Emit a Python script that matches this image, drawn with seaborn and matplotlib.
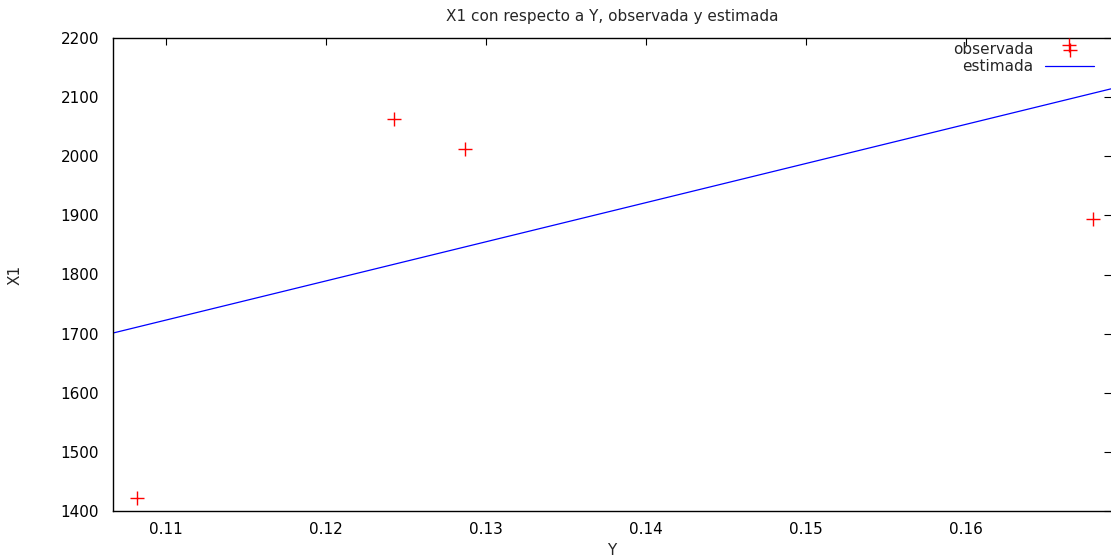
import matplotlib
matplotlib.use("Agg")
import matplotlib.pyplot as plt
import seaborn as sns
import pandas as pd

# Observed pairs (Y, X1)
obs_y = [0.10819, 0.12425, 0.12869, 0.16644, 0.16794]
obs_x1 = [1422, 2063, 2012, 2188, 1894]

# Fitted line, evaluated at the ends of the x range
est_y = [0.10669, 0.16906]
est_x1 = [1701, 2114]

x_ticks = [0.11, 0.12, 0.13, 0.14, 0.15, 0.16]
y_ticks = [1400, 1500, 1600, 1700, 1800, 1900, 2000, 2100, 2200]

sns.set_style("white")
plt.rcParams["font.family"] = ["DejaVu Sans"]
FS = 11

fig = plt.figure(figsize=(11.11, 5.57), dpi=100)
ax = fig.add_axes([113 / 1111, 46 / 557, 998 / 1111, 473 / 557])

obs = pd.DataFrame({"Y": obs_y, "X1": obs_x1})
est = pd.DataFrame({"Y": est_y, "X1": est_x1})

sns.lineplot(data=est, x="Y", y="X1", ax=ax, color="#0000ff", linewidth=0.9,
             label="estimada", zorder=2)
sns.scatterplot(data=obs, x="Y", y="X1", ax=ax, marker="+", color="#ff0000",
                s=95, linewidth=1.0, label="observada", zorder=3)

ax.set_xlim(est_y[0], est_y[1])
ax.set_ylim(1400, 2200)
ax.set_xticks(x_ticks)
ax.set_xticklabels([f"{v:.2f}" for v in x_ticks])
ax.set_yticks(y_ticks)
ax.set_yticklabels([str(v) for v in y_ticks])

ax.tick_params(direction="in", length=5, width=0.8, labelsize=FS,
               colors="black", top=True, right=True, pad=10)
ax.tick_params(axis="x", pad=8)
for side in ["left", "bottom", "top"]:
    ax.spines[side].set_visible(True)
    ax.spines[side].set_color("black")
    ax.spines[side].set_linewidth(1.0)
ax.spines["right"].set_visible(False)

ax.set_title("X1 con respecto a Y, observada y estimada", fontsize=FS, pad=12)
ax.set_xlabel("Y", fontsize=FS)
ax.set_ylabel("X1", fontsize=FS)
ax.xaxis.set_label_coords(0.5, -(543 - 511) / 473)
ax.yaxis.set_label_coords(-(113 - 23) / 998, 0.5)

handles, labels = ax.get_legend_handles_labels()
order = [labels.index("observada"), labels.index("estimada")]
ax.legend([handles[i] for i in order], [labels[i] for i in order],
          loc="upper right", bbox_to_anchor=(0.994, 1.015), frameon=False,
          markerfirst=False, fontsize=FS, handlelength=3.2,
          handletextpad=0.8, labelspacing=0.15, borderaxespad=0.3)

fig.savefig("out.png", dpi=100)
